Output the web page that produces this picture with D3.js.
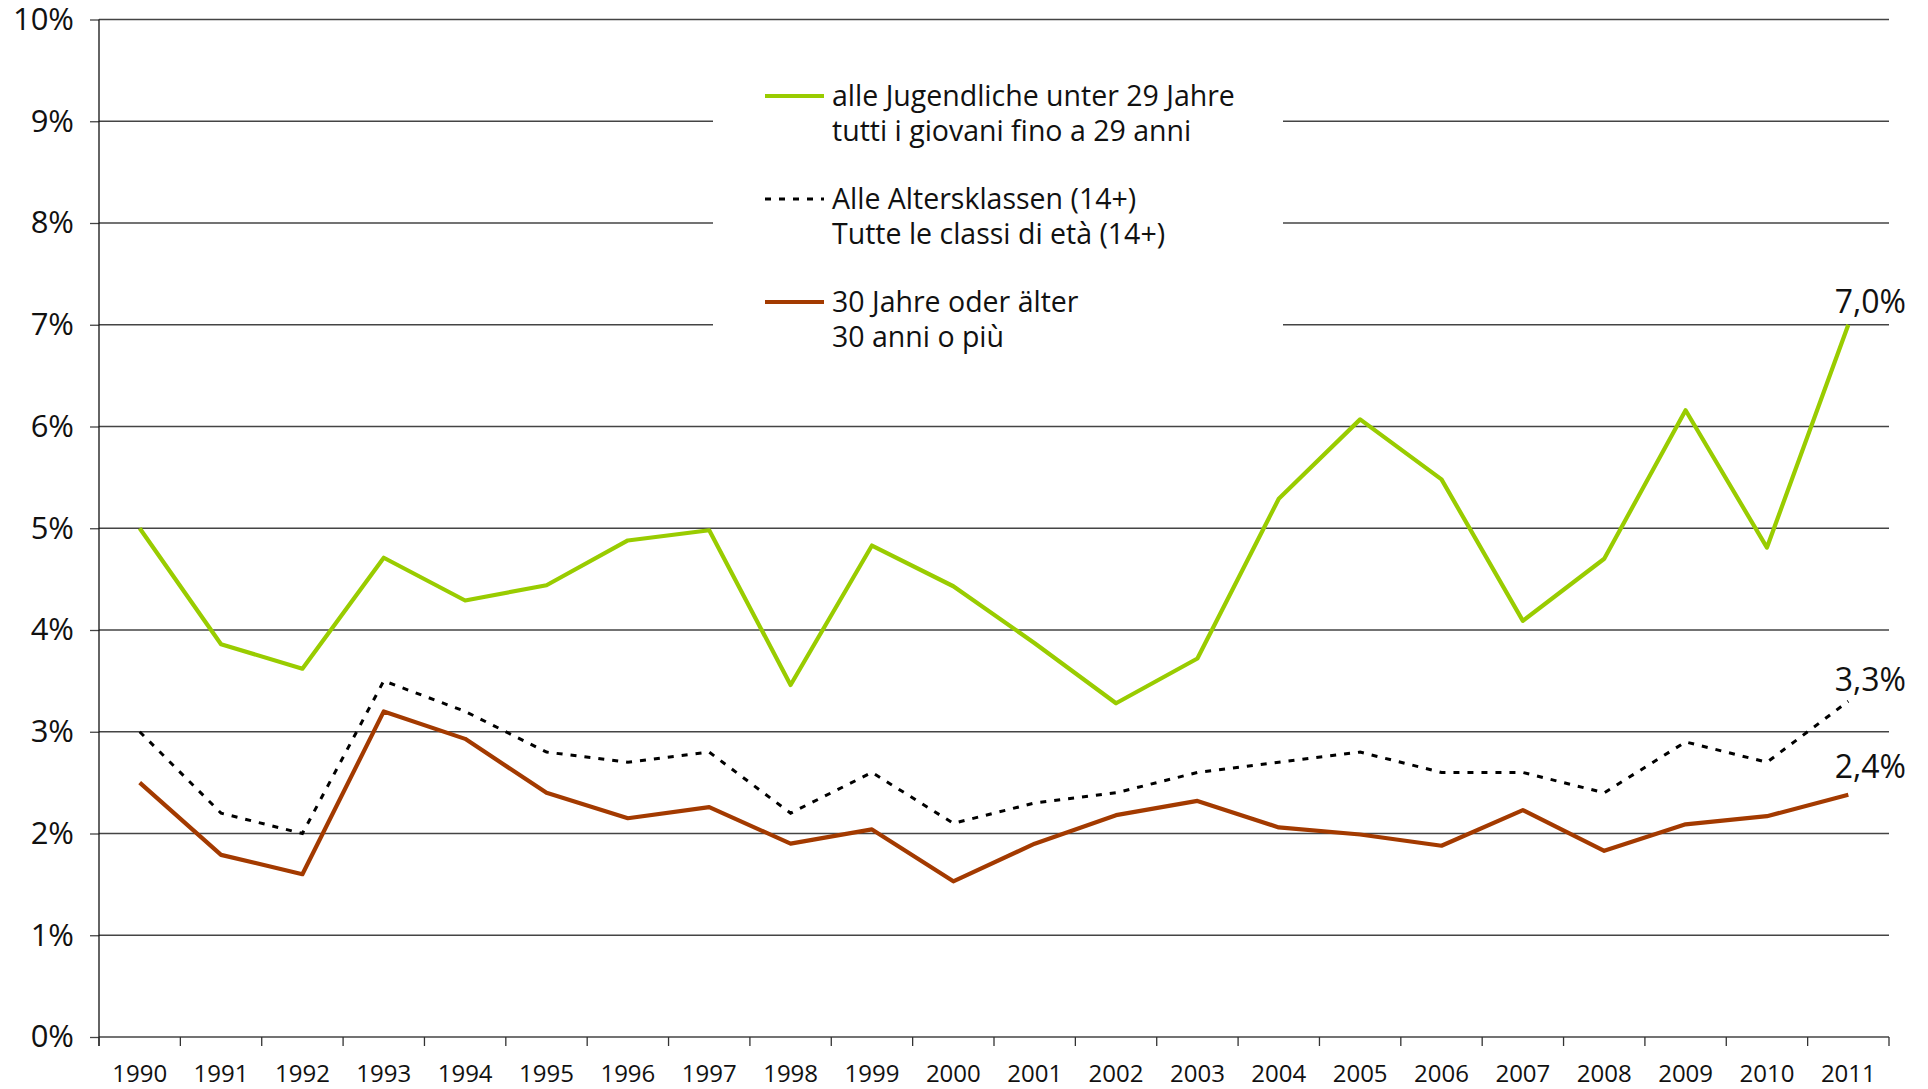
<!DOCTYPE html>
<html>
<head>
<meta charset="utf-8">
<script src="https://cdn.jsdelivr.net/npm/d3@7"></script>
<style>
  body { margin: 0; background: #fff; }
  svg { display: block; font-family: "Open Sans", sans-serif; }
</style>
</head>
<body>
<div id="chart"></div>
<script>
var years = [1990, 1991, 1992, 1993, 1994, 1995, 1996, 1997, 1998, 1999, 2000,
  2001, 2002, 2003, 2004, 2005, 2006, 2007, 2008, 2009, 2010, 2011];

// shares in %
var youth = [5.0, 3.86, 3.62, 4.71, 4.29, 4.44, 4.88, 4.98, 3.46, 4.83, 4.43,
  3.87, 3.28, 3.72, 5.29, 6.07, 5.48, 4.09, 4.70, 6.16, 4.81, 7.0];
var allAges = [3.0, 2.2, 2.0, 3.5, 3.2, 2.8, 2.7, 2.8, 2.2, 2.6, 2.1,
  2.3, 2.4, 2.6, 2.7, 2.8, 2.6, 2.6, 2.4, 2.9, 2.7, 3.3];
var older = [2.5, 1.79, 1.60, 3.20, 2.93, 2.40, 2.15, 2.26, 1.90, 2.04, 1.53,
  1.90, 2.18, 2.32, 2.06, 1.99, 1.88, 2.23, 1.83, 2.09, 2.17, 2.38];

var legendLabels = [
  ["alle Jugendliche unter 29 Jahre", "tutti i giovani fino a 29 anni"],
  ["Alle Altersklassen (14+)", "Tutte le classi di età (14+)"],
  ["30 Jahre oder älter", "30 anni o più"]
];

var W = 1928, H = 1089;
var plotL = 99, plotR = 1889, plotT = 19.5, plotB = 1037;

var svg = d3.select("#chart").append("svg")
  .attr("width", W).attr("height", H);

var x = d3.scaleBand().domain(years).range([plotL, plotR]);
var y = d3.scaleLinear().domain([0, 10]).range([plotB, plotT]);
var cx = d => x(d) + x.bandwidth() / 2;

var it = d3.formatLocale({decimal: ",", thousands: ".", grouping: [3], currency: ["", "€"]});
var fmt = it.format(".1f");

// gridlines + y axis
var yAxis = d3.axisLeft(y).ticks(10).tickSize(9).tickPadding(16).tickFormat(d => d + "%");
var gy = svg.append("g").attr("transform", "translate(" + plotL + ",0)").call(yAxis);
gy.select(".domain").remove();
gy.selectAll(".tick line").attr("stroke", "#444").attr("stroke-width", 1.3);
gy.selectAll(".tick text").attr("font-size", 31).attr("fill", "#111")
  .attr("font-family", "Open Sans");

svg.append("g").selectAll("line")
  .data(y.ticks(10))
  .join("line")
  .attr("x1", plotL).attr("x2", plotR)
  .attr("y1", d => y(d)).attr("y2", d => y(d))
  .attr("stroke", "#444").attr("stroke-width", 1.3);

// left axis line
svg.append("line")
  .attr("x1", plotL).attr("x2", plotL).attr("y1", plotT).attr("y2", plotB + 9)
  .attr("stroke", "#111").attr("stroke-width", 1.3);

// x axis: ticks on band boundaries, labels centered
var bounds = years.map(d => x(d)).concat([plotR]);
svg.append("g").selectAll("line")
  .data(bounds)
  .join("line")
  .attr("x1", d => d).attr("x2", d => d)
  .attr("y1", plotB).attr("y2", plotB + 9)
  .attr("stroke", "#333").attr("stroke-width", 1.3);

var xAxis = d3.axisBottom(x).tickSize(0).tickPadding(28);
var gx = svg.append("g").attr("transform", "translate(0," + plotB + ")").call(xAxis);
gx.select(".domain").remove();
gx.selectAll(".tick text").attr("font-size", 24).attr("fill", "#111")
  .attr("font-family", "Open Sans");

// legend background
svg.append("rect")
  .attr("x", 713).attr("y", 50).attr("width", 570).attr("height", 320)
  .attr("fill", "#fff");

var line = d3.line().x((d, i) => cx(years[i])).y(d => y(d));

svg.append("path").datum(allAges)
  .attr("d", line).attr("fill", "none")
  .attr("stroke", "#000").attr("stroke-width", 3)
  .attr("stroke-dasharray", "6,8");

svg.append("path").datum(older)
  .attr("d", line).attr("fill", "none")
  .attr("stroke", "#a33a00").attr("stroke-width", 4.2)
  .attr("stroke-linejoin", "round");

svg.append("path").datum(youth)
  .attr("d", line).attr("fill", "none")
  .attr("stroke", "#99cc00").attr("stroke-width", 4.2)
  .attr("stroke-linejoin", "round");

// end labels
var last = years.length - 1;
var ends = [
  {v: youth[last], dy: -12},
  {v: allAges[last], dy: -10},
  {v: older[last], dy: -17}
];
svg.append("g").selectAll("text")
  .data(ends)
  .join("text")
  .attr("x", cx(years[last]) + 22)
  .attr("y", d => y(d.v) + d.dy)
  .attr("text-anchor", "middle")
  .attr("font-size", 32).attr("fill", "#111")
  .text(d => fmt(d.v) + "%");

// legend
var legendStyles = [
  {stroke: "#99cc00", width: 4.2, dash: null},
  {stroke: "#000", width: 3, dash: "6,8"},
  {stroke: "#a33a00", width: 4.2, dash: null}
];
var lg = svg.append("g").selectAll("g")
  .data(legendLabels)
  .join("g")
  .attr("transform", (d, i) => "translate(765," + (96 + i * 103) + ")");
lg.append("line")
  .attr("x1", 0).attr("x2", 59).attr("y1", 0).attr("y2", 0)
  .attr("stroke", (d, i) => legendStyles[i].stroke)
  .attr("stroke-width", (d, i) => legendStyles[i].width)
  .attr("stroke-dasharray", (d, i) => legendStyles[i].dash);
lg.each(function (d) {
  d3.select(this).selectAll("text")
    .data(d)
    .join("text")
    .attr("x", 67)
    .attr("y", (t, j) => 10 + j * 35)
    .attr("font-size", 28.5).attr("fill", "#111")
    .text(t => t);
});
</script>
</body>
</html>
